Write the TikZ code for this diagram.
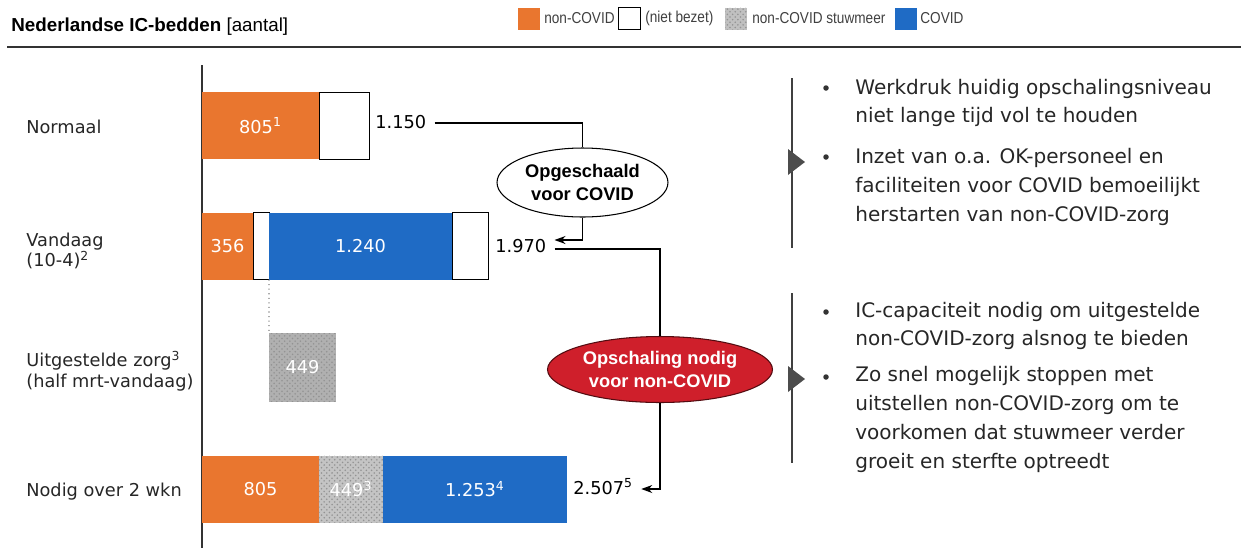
\documentclass[tikz,border=0pt]{standalone}
\usepackage{fontspec}
\setmainfont{DejaVu Sans}
\newfontfamily\headfont{Liberation Sans}
\newfontfamily\legfont[FakeStretch=0.86]{Liberation Sans}
\usetikzlibrary{positioning,shapes.geometric,arrows.meta,patterns}

\definecolor{nonCovid}{HTML}{E9762F}
\definecolor{covid}{HTML}{1F6BC5}
\definecolor{stuw}{HTML}{B0B0B0}
\definecolor{redEll}{HTML}{CF1F2B}

\newcommand\bodyfont{\fontsize{10.1}{11.8}\selectfont}

\begin{document}
\begin{tikzpicture}[x=0.02cm, y=-0.02cm,
  bar/.style={rectangle, minimum height=1.34cm, inner sep=0pt, outer sep=0pt, text=white, font=\bodyfont},
  o/.style={bar, fill=nonCovid},
  b/.style={bar, fill=covid},
  w/.style={bar, draw=black, line width=0.5pt, fill=white},
  g/.style={bar, preaction={fill=#1}, pattern=crosshatch dots, pattern color=gray!85},
  g/.default=stuw,
  val/.style={anchor=west, inner xsep=0.16cm, inner ysep=0pt, text height=8pt, text depth=2pt, font=\bodyfont},
  lab/.style={anchor=west, align=left, inner sep=0pt, font=\bodyfont, text=black!85},
  txt/.style={anchor=west, align=left, inner sep=0pt, font=\fontsize{11.4}{16.4}\selectfont, text=black!85},
  dot/.style={circle, fill=black!80, inner sep=0pt, minimum size=0.11cm},
  leg/.style={rectangle, minimum width=0.44cm, minimum height=0.44cm, inner sep=0pt},
  legt/.style={anchor=west, inner sep=0pt, text=black!75, font=\legfont\fontsize{9}{10}\selectfont},
  ell/.style={ellipse, inner sep=0pt, align=center, font=\headfont\bfseries\fontsize{10.4}{13.4}\selectfont},
  conn/.style={line width=0.6pt},
  brack/.style={line width=0.85pt, black!75}]

  \useasboundingbox (0,0) rectangle (1241,552);

  % header
  \node[anchor=west, inner sep=0pt, font=\headfont\fontsize{10.7}{12}\selectfont] (titel) at (11,27) {\textbf{Nederlandse IC-bedden} [aantal]};
  \draw[line width=1.1pt, black!80] (7,47) -- (1241,47);

  \node[leg, fill=nonCovid] (kO) at (529,18.5) {};
  \node[legt] (tO) at (544,18.5) {non-COVID};
  \node[leg, draw=black, line width=0.5pt, fill=white] (kW) at (629.5,18.5) {};
  \node[legt] (tW) at (645,18.5) {(niet bezet)};
  \node[g=stuw!80, leg] (kG) at (736,18.5) {};
  \node[legt] (tG) at (752,18.5) {non-COVID stuwmeer};
  \node[leg, fill=covid] (kB) at (906,18.5) {};
  \node[legt] (tB) at (920,18.5) {COVID};

  % labels
  \node[lab] (lNormaal) at (26,127) {Normaal};
  \node[lab] (lVandaag) at (26,251) {Vandaag\\(10-4)\textsuperscript{2}};
  \node[lab] (lUitgesteld) at (26,371) {Uitgestelde zorg\textsuperscript{3}\\(half mrt-vandaag)};
  \node[lab] (lNodig) at (26,492) {Nodig over 2 wkn};

  \draw[line width=0.6pt, black!80] (202,65) -- (202,548);

  % bars
  \node[o, minimum width=2.34cm, anchor=west] (n805) at (202,125.5) {805\textsuperscript{1}};
  \node[w, minimum width=1.0cm, right=0pt of n805] (nVrij) {};

  \node[o, minimum width=1.02cm, anchor=west] (v356) at (202,246) {356};
  \node[w, minimum width=0.32cm, right=0pt of v356] (vVrij1) {};
  \node[b, minimum width=3.66cm, right=0pt of vVrij1] (v1240) {1.240};
  \node[w, minimum width=0.72cm, right=0pt of v1240] (vVrij2) {};

  \node[g, minimum width=1.34cm, minimum height=1.38cm, anchor=north west] (u449) at (269,333) {449};

  \node[o, minimum width=2.34cm, anchor=west] (d805) at (202,489) {805};
  \node[g=stuw!75, minimum width=1.28cm, right=0pt of d805] (d449) {449\textsuperscript{3}};
  \node[b, minimum width=3.68cm, right=0pt of d449] (d1253) {1.253\textsuperscript{4}};

  \draw[dotted, gray, line width=0.6pt] (vVrij1.south east) -- (u449.north west);

  % totals
  \node[val] (t1150) at (367,123) {1.150};
  \node[val] (t1970) at (487,247) {1.970};
  \node[val] (t2507) at (565,489) {2.507\textsuperscript{5}};

  \node[ell, draw=black, line width=0.6pt, fill=white, minimum width=3.42cm, minimum height=1.38cm] (opg) at (582.5,182.5) {Opgeschaald\\voor COVID};
  \node[ell, draw=black!60!redEll, line width=0.6pt, fill=redEll, text=white, minimum width=4.5cm, minimum height=1.32cm] (ops) at (660,369.5) {Opschaling nodig\\voor non-COVID};

  \draw[conn] (t1150.east) -| (opg.north);
  \draw[conn, -{Stealth[length=2.2mm, width=1.6mm]}] (opg.south) |- ([yshift=0.14cm]t1970.east);
  \draw[conn] ([yshift=-0.04cm]t1970.east) -| (ops.north);
  \draw[conn, -{Stealth[length=2.2mm, width=1.6mm]}] (ops.south) |- (t2507.east);

  % conclusions
  \draw[brack] (792,78) -- (792,248);
  \fill[black!70] (788,149) -- (805,162) -- (788,175) -- cycle;
  \node[dot] (p1) at (826,88) {};
  \node[txt] (r1) at (855,103) {Werkdruk huidig opschalingsniveau\\niet lange tijd vol te houden};
  \node[dot] (p2) at (826,157) {};
  \node[txt] (r2) at (855,187) {Inzet van o.a. OK-personeel en\\faciliteiten voor COVID bemoeilijkt\\herstarten van non-COVID-zorg};

  \draw[brack] (792,293) -- (792,463);
  \fill[black!70] (788,366) -- (805,379) -- (788,392) -- cycle;
  \node[dot] (p3) at (826,312) {};
  \node[txt] (r3) at (855,326) {IC-capaciteit nodig om uitgestelde\\non-COVID-zorg alsnog te bieden};
  \node[dot] (p4) at (826,377) {};
  \node[txt] (r4) at (855,419.5) {Zo snel mogelijk stoppen met\\uitstellen non-COVID-zorg om te\\voorkomen dat stuwmeer verder\\groeit en sterfte optreedt};
\end{tikzpicture}
\end{document}
